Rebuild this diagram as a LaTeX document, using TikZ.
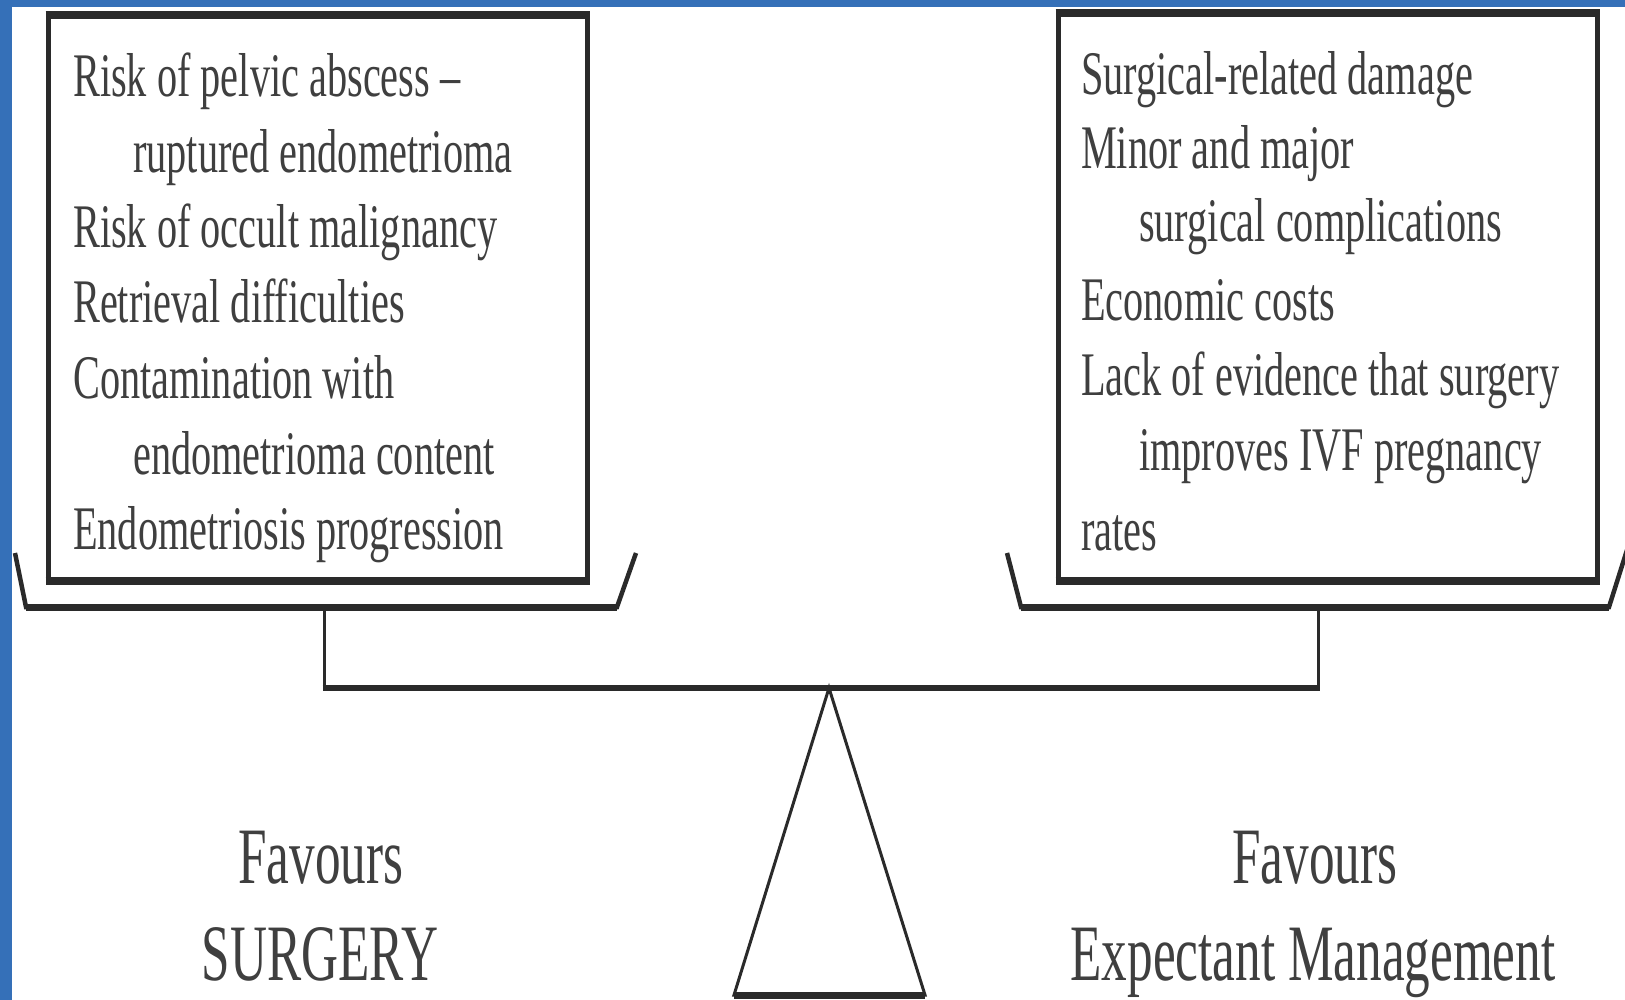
\documentclass[tikz,border=0pt]{standalone}
\usepackage{fontspec}
\setmainfont{Liberation Serif}
\definecolor{slideblue}{HTML}{3570B8}
\definecolor{ink}{HTML}{2A2A2A}
\begin{document}
\begin{tikzpicture}[x=1pt,y=-1pt,
  boxst/.style={draw=ink, line width=5pt, inner sep=0pt, outer sep=0pt, fill=white},
  hedge/.style={draw=ink, line width=8pt},
  trayst/.style={draw=ink, line width=4.5pt, line join=miter},
  traybot/.style={draw=ink, line width=7pt},
  postst/.style={draw=ink, line width=3pt},
  beamst/.style={draw=ink, line width=6.5pt},
  txt/.style={anchor=base west, inner sep=0pt, text=ink!90,
    font=\fontsize{62}{62}\selectfont, xscale=0.65},
  lbl/.style={anchor=base, inner sep=0pt, text=ink!90,
    font=\fontsize{80}{80}\selectfont, xscale=0.64}]
\useasboundingbox (0,0) rectangle (1625,1000);
\fill[white] (0,0) rectangle (1625,1000);
% slide border
\fill[slideblue] (0,0) rectangle (1625,7);
\fill[slideblue] (0,0) rectangle (12,1000);
% boxes
\node (lbox) [boxst, minimum width=539pt, minimum height=566pt] at (317.5,298) {};
\node (rbox) [boxst, minimum width=539pt, minimum height=568pt] at (1327.5,297) {};
\draw[hedge] ([xshift=-2.5pt]lbox.north west) -- ([xshift=2.5pt]lbox.north east);
\draw[hedge] ([xshift=-2.5pt]lbox.south west) -- ([xshift=2.5pt]lbox.south east);
\draw[hedge] ([xshift=-2.5pt]rbox.north west) -- ([xshift=2.5pt]rbox.north east);
\draw[hedge] ([xshift=-2.5pt]rbox.south west) -- ([xshift=2.5pt]rbox.south east);
% trays
\coordinate (ltl) at (15,553); \coordinate (lbl) at (26,607);
\coordinate (lbr) at (617,607); \coordinate (ltr) at (636,553);
\coordinate (rtl) at (1007,553); \coordinate (rbl) at (1021,607);
\coordinate (rbr) at (1609,607); \coordinate (rtr) at (1627,550);
\draw[trayst] (ltl) -- (lbl) -- (lbr) -- (ltr);
\draw[trayst] (rtl) -- (rbl) -- (rbr) -- (rtr);
\draw[traybot] (lbl) -- (lbr);
\draw[traybot] (rbl) -- (rbr);
% posts and beam
\coordinate (lpt) at (324,607); \coordinate (lpb) at (324,688);
\coordinate (rpt) at (1318,607); \coordinate (rpb) at (1318,688);
\draw[postst] (lpt) -- (lpb);
\draw[postst] (rpt) -- (rpb);
\draw[beamst] ([xshift=-1.5pt]lpb) -- ([xshift=1.5pt]rpb);
% fulcrum
\coordinate (apex) at (829,688);
\coordinate (bl) at (734,995);
\coordinate (br) at (925,995);
\draw[postst, line join=miter] (apex) -- (bl) -- (br) -- cycle;
\draw[ink, line width=7pt] (bl) -- (br);
% left box text
\node (l1) [txt] at (73,97) {Risk of pelvic abscess –};
\node (l2) [txt] at (133,173) {ruptured endometrioma};
\node (l3) [txt] at (73,248) {Risk of occult malignancy};
\node (l4) [txt] at (73,323) {Retrieval difficulties};
\node (l5) [txt] at (73,398) {Contamination with};
\node (l6) [txt] at (133,474) {endometrioma content};
\node (l7) [txt] at (73,549) {Endometriosis progression};
% right box text
\node (r1) [txt] at (1081,95) {Surgical-related damage};
\node (r2) [txt] at (1081,169) {Minor and major};
\node (r3) [txt] at (1139,242) {surgical complications};
\node (r4) [txt] at (1081,320) {Economic costs};
\node (r5) [txt] at (1081,395) {Lack of evidence that surgery};
\node (r6) [txt] at (1139,470) {improves IVF pregnancy};
\node (r7) [txt] at (1081,550) {rates};
% bottom labels
\node (fs1) [lbl] at (321,883) {Favours};
\node (fs2) [lbl] at (320,980) {SURGERY};
\node (fe1) [lbl] at (1315,883) {Favours};
\node (fe2) [lbl] at (1313,980) {Expectant Management};
\end{tikzpicture}
\end{document}
